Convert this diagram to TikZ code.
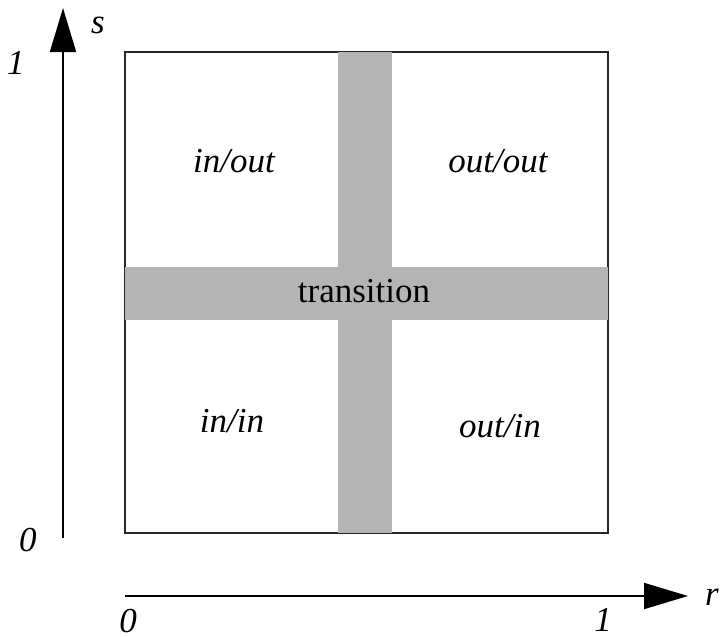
\documentclass[tikz,border=0pt]{standalone}
\usepackage{fontspec}
\setmainfont{Liberation Serif}
\usetikzlibrary{arrows.meta}
\definecolor{band}{RGB}{180,180,180}
\tikzset{
  lbl/.style={font=\fontsize{17.5}{20}\selectfont\itshape, inner sep=0pt},
  axis/.style={line width=0.9pt, -{Triangle[length=22pt,width=13pt]}},
  frame/.style={line width=1pt, draw=black!85}
}
\begin{document}
\begin{tikzpicture}[x=0.5pt,y=-0.5pt]
\useasboundingbox (0,0) rectangle (724,638);
% square
\draw[frame] (125,52) rectangle (608,533);
% bands
\fill[band] (338,52) rectangle (392,533);
\fill[band] (125,267) rectangle (608,320);
% axes
\coordinate (v0) at (63,538);
\coordinate (v1) at (63,8);
\coordinate (h0) at (125,596);
\coordinate (h1) at (688,596);
\draw[axis] (v0) -- (v1);
\draw[axis] (h0) -- (h1);
% labels
\node[lbl] (s) at (98,25) {s};
\node[lbl] (s1) at (16,63) {1};
\node[lbl] (s0) at (28,540) {0};
\node[lbl] (r0) at (128,621) {0};
\node[lbl] (r1) at (603,620) {1};
\node[lbl] (r) at (712,597) {r};
\node[lbl] (io) at (234,161) {in/out};
\node[lbl] (oo) at (498,161) {out/out};
\node[lbl] (ii) at (232,421) {in/in};
\node[lbl] (oi) at (500,426) {out/in};
\node[lbl, font=\fontsize{17.5}{20}\selectfont] (t) at (364,291) {transition};
\end{tikzpicture}
\end{document}
